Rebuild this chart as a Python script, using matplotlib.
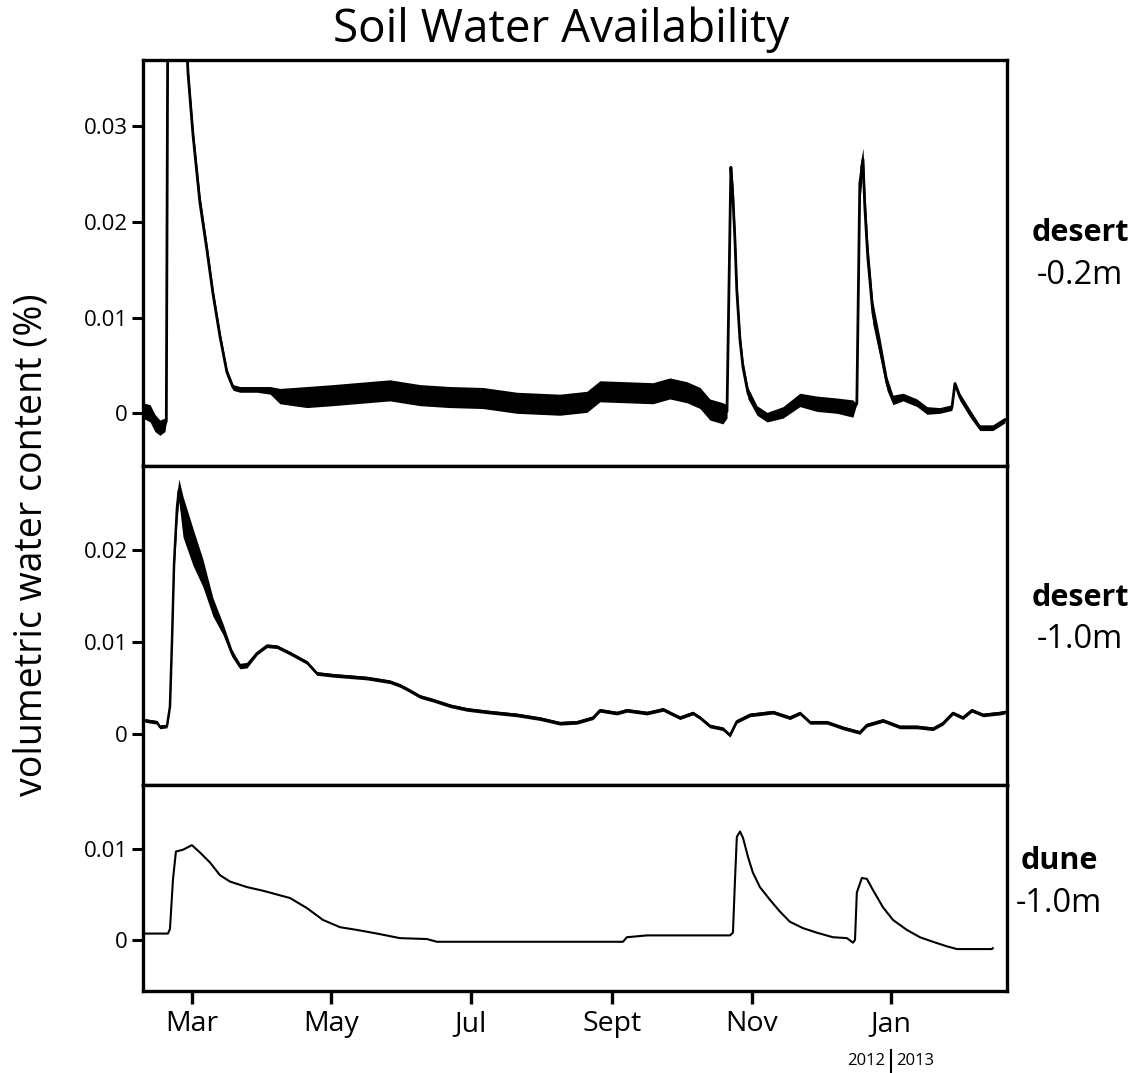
import numpy as np
import pandas as pd
import matplotlib
matplotlib.use('Agg')
import matplotlib.pyplot as plt
from matplotlib.lines import Line2D

plt.rcParams['font.family'] = ['Open Sans', 'DejaVu Sans']

# day 0 = left edge of the record window
origin = pd.Timestamp('2012-02-08 17:00')
span_days = 378

# desert, -0.2 m  (day, vwc, half width of the sensor noise band)
d02_day = [0, 3.1, 5.2, 7.4, 9.6, 10.2, 10.9, 18.8, 19.7, 21.9, 24.9, 28, 30.6, 33.7,
           36.7, 39.4, 42.4, 49.9, 55.6, 59.9, 71.7, 83.1, 98, 108, 121.2, 134.3,
           148.7, 163.6, 182.4, 194.2, 199.9, 211.7, 223.1, 230.5, 238, 243.7, 248,
           253.7, 255.5, 257.2, 258.1, 259, 259.8, 261.2, 262.5, 264.7, 268.6, 273,
           280, 287.4, 294.8, 303.6, 310.6, 312.3, 313.6, 315, 315.8, 317.1, 319.3,
           322.4, 325.5, 328.1, 332.5, 338.6, 343, 348.6, 353.9, 355.2, 357.4, 361.8,
           366.1, 371.8, 377.1]
d02_vwc = [0.0003, 0.0, -0.001, -0.0015, -0.0012, -0.0008, 0.045, 0.040, 0.0355, 0.029,
           0.022, 0.017, 0.0125, 0.008, 0.0043, 0.0027, 0.0025, 0.0025, 0.0024, 0.0018,
           0.0017, 0.0019, 0.0022, 0.0024, 0.0019, 0.0017, 0.0016, 0.0011, 0.0009,
           0.0012, 0.0023, 0.0022, 0.0021, 0.0026, 0.0022, 0.0016, 0.0004, 0.0, 0.0002,
           0.0257, 0.0225, 0.018, 0.0128, 0.0076, 0.0048, 0.0021, 0.0003, -0.0004,
           0.0001, 0.0014, 0.001, 0.0008, 0.0005, 0.001, 0.024, 0.0265, 0.0215, 0.0163,
           0.0105, 0.0069, 0.0031, 0.0014, 0.0017, 0.0011, 0.0003, 0.0003, 0.0006,
           0.0031, 0.0017, 0.0, -0.0015, -0.0015, -0.0007]
d02_noise = [0.0008, 0.0009, 0.0009, 0.0008, 0.0007, 0, 0, 0, 0.0008, 0.0008, 0.0008,
             0.0007, 0.0006, 0.0005, 0.0004, 0.0003, 0.0003, 0.0003, 0.0004, 0.0008,
             0.0011, 0.0011, 0.0011, 0.0011, 0.0011, 0.0011, 0.0011, 0.0011, 0.0011,
             0.0011, 0.0011, 0.0011, 0.0011, 0.0011, 0.0011, 0.0011, 0.0011, 0.0011,
             0.0007, 0, 0.0015, 0.0013, 0.0011, 0.0008, 0.0007, 0.0006, 0.0005, 0.0005,
             0.0006, 0.0007, 0.0008, 0.0008, 0.0009, 0, 0.0018, 0.0012, 0.0018, 0.0015,
             0.0012, 0.001, 0.0007, 0.0005, 0.0004, 0.0004, 0.0004, 0.0003, 0.0003,
             0.0003, 0.0004, 0.0004, 0.0003, 0.0003, 0.0003]

# desert, -1.0 m
d10_day = [0.9, 6.1, 7.4, 10.5, 11.8, 12.7, 13.6, 14.9, 15.7, 17.5, 21.9, 26.2, 30.6,
           35, 38.9, 42.4, 45.5, 49.9, 54.2, 58.6, 64.3, 71.7, 76.1, 83.1, 98, 108,
           112.4, 115.5, 121.2, 126.9, 134.3, 141.7, 151.8, 163.6, 173.7, 182.4, 189.9,
           196.9, 199.9, 207.3, 211.7, 220.5, 227.5, 234.9, 240.6, 243.7, 248, 253.7,
           256.8, 259.8, 265.5, 275.6, 283, 287.4, 291.8, 299.2, 306.2, 313.6, 316.7,
           323.7, 331.1, 338.6, 345.6, 350, 354.3, 358.7, 362.6, 367.5, 374.9, 377.1]
d10_vwc = [0.0015, 0.0013, 0.0008, 0.0009, 0.003, 0.0102, 0.0186, 0.0247, 0.0265,
           0.0236, 0.0203, 0.0175, 0.0138, 0.0114, 0.0088, 0.0074, 0.0075, 0.0088,
           0.0096, 0.0095, 0.0088, 0.0078, 0.0066, 0.0064, 0.0061, 0.0057, 0.0053,
           0.0049, 0.0041, 0.0037, 0.0031, 0.0027, 0.0024, 0.0021, 0.0017, 0.0012,
           0.0013, 0.0018, 0.0026, 0.0023, 0.0026, 0.0023, 0.0027, 0.0018, 0.0023,
           0.0018, 0.0009, 0.0006, -0.0001, 0.0014, 0.0021, 0.0024, 0.0018, 0.0023,
           0.0013, 0.0013, 0.0007, 0.0002, 0.001, 0.0015, 0.0008, 0.0008, 0.0006,
           0.0012, 0.0023, 0.0018, 0.0026, 0.0021, 0.0023, 0.0024]
d10_noise = [0.0002, 0.0002, 0.0002, 0.0002, 0, 0, 0.001, 0.0015, 0.0012, 0.0022, 0.002,
             0.0015, 0.001, 0.0006, 0.0004, 0.0003, 0.0003, 0.0002, 0.0002, 0.0002,
             0.0002, 0.0002, 0.0002, 0.0002, 0.0002, 0.0002, 0.0002, 0.0002, 0.0002,
             0.0002, 0.0002, 0.0002, 0.0002, 0.0002, 0.0002, 0.0002, 0.0002, 0.0002,
             0.0002, 0.0002, 0.0002, 0.0002, 0.0002, 0.0002, 0.0002, 0.0002, 0.0002,
             0.0002, 0.0002, 0.0002, 0.0002, 0.0002, 0.0002, 0.0002, 0.0002, 0.0002,
             0.0002, 0.0002, 0.0002, 0.0002, 0.0002, 0.0002, 0.0002, 0.0002, 0.0002,
             0.0002, 0.0002, 0.0002, 0.0002, 0.0002]

# dune, -1.0 m
dune_day = [0, 10.9, 11.8, 13.1, 14.4, 17.5, 21.4, 24.9, 29.3, 33.7, 38.1, 45.5, 52.5,
            59.9, 64.3, 71.7, 78.7, 86.2, 93.6, 102.4, 112.4, 124.2, 128.6, 210, 211.7,
            220.5, 256.8, 258.1, 259, 259.8, 261.2, 262.5, 264.7, 266.8, 269.9, 274.3,
            278.7, 283, 288.7, 294.8, 301.8, 308, 310.6, 311.5, 312.3, 314.5, 316.7,
            319.3, 323.7, 328.1, 334.2, 339.9, 345.6, 351.7, 356.1, 371.4, 371.8]
dune_vwc = [0.0007, 0.0007, 0.0012, 0.0066, 0.0097, 0.0099, 0.0104, 0.0096, 0.0085,
            0.0071, 0.0064, 0.0058, 0.0054, 0.0049, 0.0046, 0.0035, 0.0022, 0.0014,
            0.0011, 0.0007, 0.0002, 0.0001, -0.0002, -0.0002, 0.0003, 0.0005, 0.0005,
            0.0008, 0.0066, 0.0113, 0.0119, 0.0112, 0.0091, 0.0074, 0.0058, 0.0044,
            0.0031, 0.002, 0.0013, 0.0008, 0.0003, 0.0002, -0.0003, 0.0, 0.0052, 0.0068,
            0.0067, 0.0055, 0.0036, 0.0022, 0.0011, 0.0003, -0.0002, -0.0007, -0.001,
            -0.001, -0.0009]

panel_ylim = [(-0.0055, 0.0369), (-0.0055, 0.0291), (-0.0056, 0.0170)]
panel_yticks = [[0, 0.01, 0.02, 0.03], [0, 0.01, 0.02], [0, 0.01]]
panel_site = ['desert', 'desert', 'dune']
panel_depth = ['-0.2m', '-1.0m', '-1.0m']

month_ticks = ['2012-03-01', '2012-05-01', '2012-07-01', '2012-09-01', '2012-11-01', '2013-01-01']
month_labels = ['Mar', 'May', 'Jul', 'Sept', 'Nov', 'Jan']


def to_dates(days):
    return origin + pd.to_timedelta(np.array(days), unit='D')


def tick_fmt(v):
    return '0' if v == 0 else '%.2f' % v


W, H = 1140, 1073
fig = plt.figure(figsize=(W / 100, H / 100), dpi=100)

# pixel boxes of the three panels: (top, bottom)
boxes = [(60, 466), (466, 785), (785, 991)]
left, right = 143, 1007
axes = []
for top, bot in boxes:
    ax = fig.add_axes([left / W, 1 - bot / H, (right - left) / W, (bot - top) / H])
    axes.append(ax)

series = [(d02_day, d02_vwc, d02_noise, 2.0),
          (d10_day, d10_vwc, d10_noise, 1.8),
          (dune_day, dune_vwc, None, 1.5)]

label_x = [1080, 1080, 1059]
label_y = [253, 618, 881]
for i, ax in enumerate(axes):
    days, vwc, noise, lw = series[i]
    t = to_dates(days)
    v = np.array(vwc)
    if noise is not None:
        n = np.array(noise)
        ax.fill_between(t, v - n, v + n, color='black', lw=0)
    ax.plot(t, v, color='black', lw=lw)

    ax.set_xlim(origin, origin + pd.Timedelta(days=span_days))
    ax.set_ylim(*panel_ylim[i])
    ax.set_yticks(panel_yticks[i])
    ax.set_yticklabels([tick_fmt(y) for y in panel_yticks[i]], fontsize=16)
    ax.tick_params(axis='y', direction='out', length=8, width=2.2, pad=3)
    for s in ax.spines.values():
        s.set_linewidth(2.4)
    ax.set_xticks(pd.to_datetime(month_ticks))
    if i < 2:
        ax.tick_params(axis='x', length=0, labelbottom=False)
    else:
        ax.set_xticklabels(month_labels, fontsize=20.5)
        ax.tick_params(axis='x', direction='out', length=9, width=2.4, pad=5)

    yc = label_y[i]
    fig.text(label_x[i] / W, 1 - (yc - 20) / H, panel_site[i], fontsize=22,
             fontweight='bold', ha='center', va='center')
    fig.text(label_x[i] / W, 1 - (yc + 22) / H, panel_depth[i], fontsize=23.5,
             ha='center', va='center')

fig.text(561 / W, 1 - 30 / H, 'Soil Water Availability', fontsize=33,
         ha='center', va='center')
fig.text(32 / W, 1 - 545 / H, 'volumetric water content (%)', fontsize=27,
         rotation=90, ha='center', va='center')

# year boundary marker under the Jan tick
fig.text(885 / W, 1 - 1061 / H, '2012', fontsize=12, ha='right', va='center')
fig.text(896 / W, 1 - 1061 / H, '2013', fontsize=12, ha='left', va='center')
fig.add_artist(Line2D([890.5 / W, 890.5 / W], [1 - 1050 / H, 1 - 1073 / H],
                      color='black', lw=1.5))

fig.savefig('out.png', dpi=100)
